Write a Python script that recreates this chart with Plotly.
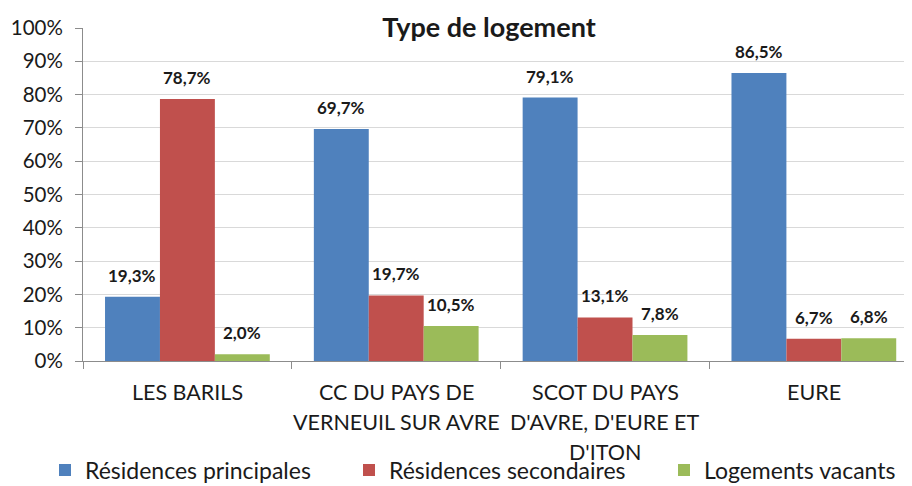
import plotly.graph_objects as go

categories = [["LES BARILS"], ["CC DU PAYS DE", "VERNEUIL SUR AVRE"],
              ["SCOT DU PAYS", "D'AVRE, D'EURE ET", "D'ITON"], ["EURE"]]
series_names = ["Résidences principales", "Résidences secondaires", "Logements vacants"]
principales = [19.3, 69.7, 79.1, 86.5]
secondaires = [78.7, 19.7, 13.1, 6.7]
vacants = [2.0, 10.5, 7.8, 6.8]
colors = ["#4F81BD", "#C0504D", "#9BBB59"]
y_ticks = [0, 10, 20, 30, 40, 50, 60, 70, 80, 90, 100]
y_ticktext = [f"{v}%" for v in y_ticks]

FONT = "Lato"
W, H = 904, 478          # page body has an 8px default margin
series = [principales, secondaires, vacants]
xpos = list(range(len(categories)))
bar_w = 0.263
group_w = bar_w * len(series)
legend_ids = ["legend", "legend2", "legend3"]
legend_left_px = [37, 341, 656]

fig = go.Figure()
annotations = []
for k, (name, vals, col) in enumerate(zip(series_names, series, colors)):
    off = -group_w / 2 + k * bar_w
    fig.add_trace(go.Bar(
        x=xpos, y=vals, name=name, marker_color=col, marker_line_width=0,
        width=bar_w, offset=off, hoverinfo="y", legend=legend_ids[k]))
    for xi, v in zip(xpos, vals):
        annotations.append(dict(
            x=xi + off + bar_w / 2, y=v, xref="x", yref="y",
            text=f"<b>{v:.1f}%</b>".replace(".", ","), showarrow=False,
            yanchor="bottom", yshift=9,
            font=dict(family=FONT, size=17, color="#1a1a1a")))

for xi, lines in zip(xpos, categories):
    for j, line in enumerate(lines):
        annotations.append(dict(
            x=xi, y=0, xref="x", yref="y", text=line, showarrow=False,
            yanchor="middle", yshift=-31 - 30 * j,
            font=dict(family=FONT, size=21.5, color="#1a1a1a")))

legend_style = dict(orientation="h", xanchor="left", xref="container",
                    yref="container", y=1 - 462 / H, yanchor="middle",
                    font=dict(family=FONT, size=23, color="#1a1a1a"),
                    itemclick=False, bgcolor="rgba(0,0,0,0)")
legends = {lid: dict(legend_style, x=px / W) for lid, px in zip(legend_ids, legend_left_px)}

fig.update_layout(
    width=W, height=H,
    margin=dict(l=75, r=0, t=20, b=125, autoexpand=False),
    paper_bgcolor="white", plot_bgcolor="white",
    barmode="overlay",
    title=dict(text="<b>Type de logement</b>", x=481 / W, xanchor="center",
               xref="container", y=1 - 20 / H, yanchor="middle", yref="container",
               font=dict(family=FONT, size=27, color="#1a1a1a")),
    xaxis=dict(range=[-0.5, 3.47], tickvals=[-0.5, 0.5, 1.5, 2.5, 3.5],
               ticktext=["", "", "", "", ""], ticks="outside", ticklen=7,
               tickcolor="#8c8c8c", showline=True, linecolor="#8c8c8c",
               linewidth=1, showgrid=False, zeroline=False, automargin=False),
    yaxis=dict(range=[0, 100], tickvals=y_ticks, ticktext=y_ticktext,
               ticks="outside", ticklen=7, tickcolor="#8c8c8c",
               showline=True, linecolor="#8c8c8c", showgrid=True,
               gridcolor="#d9d9d9", zeroline=False, ticklabelstandoff=8,
               automargin=False,
               tickfont=dict(family=FONT, size=20.5, color="#1a1a1a")),
    annotations=annotations,
    showlegend=True,
    **legends,
)

fig.write_html("out.html")
